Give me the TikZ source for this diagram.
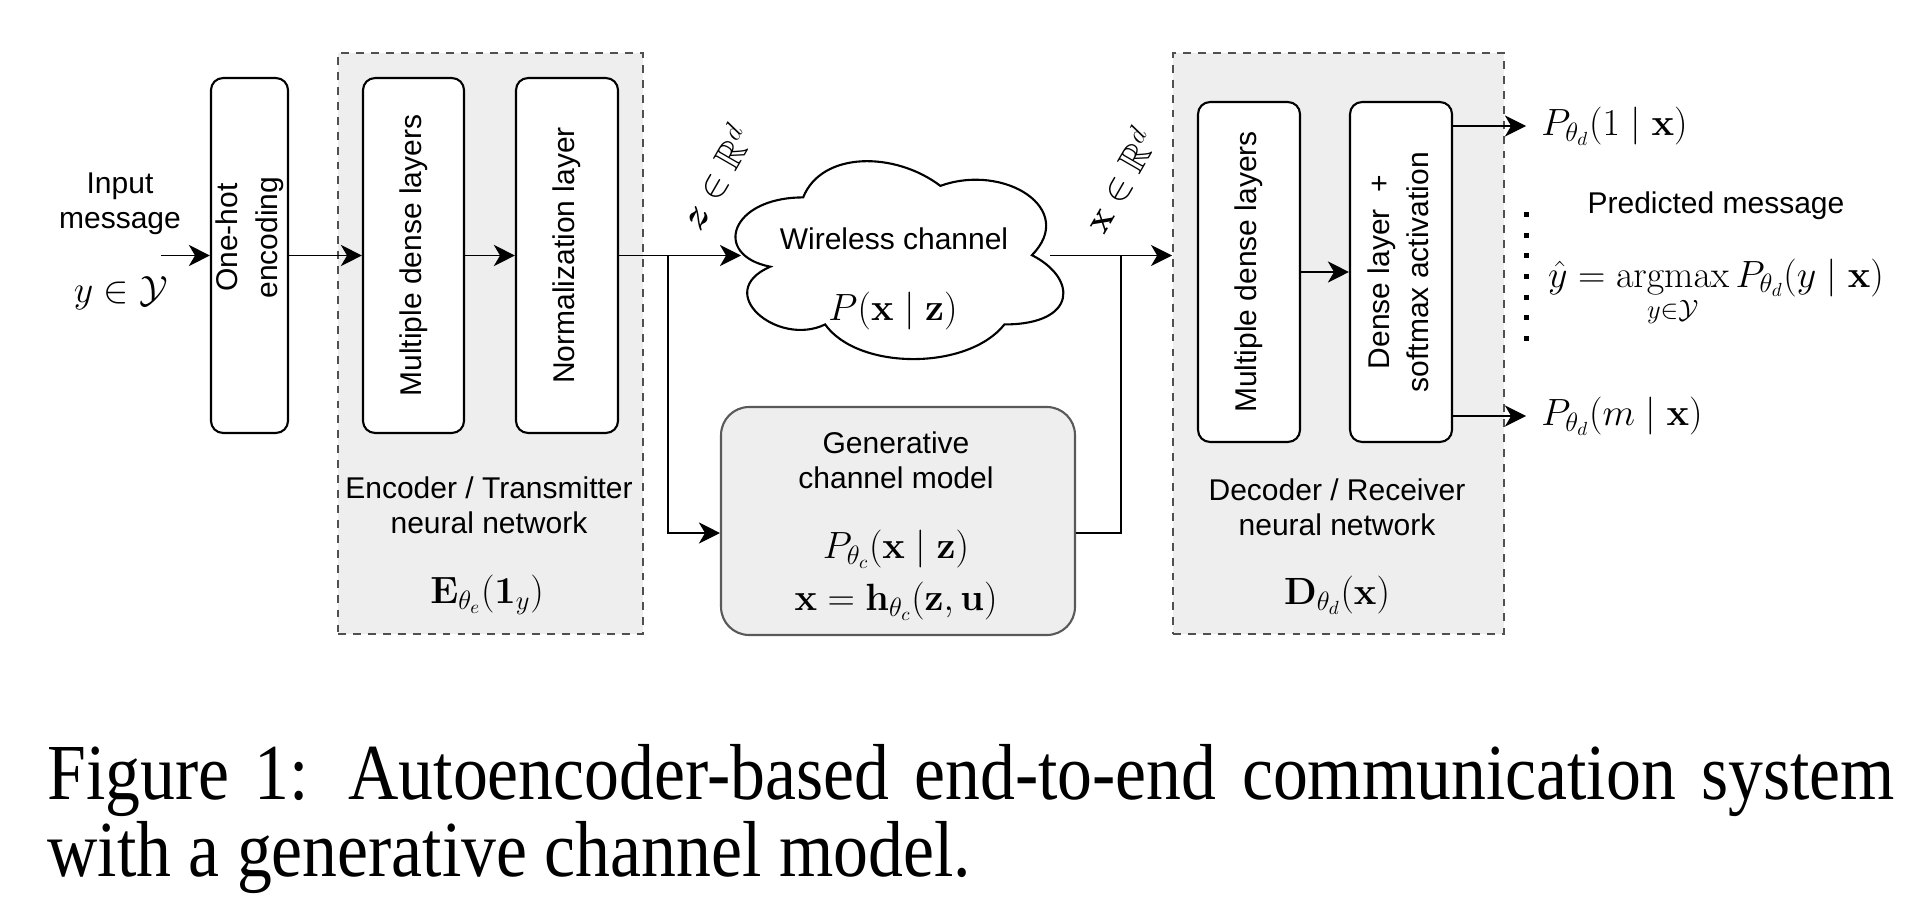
\RequirePackage{fix-cm}
\documentclass[tikz,border=0pt]{standalone}
\usepackage{xcolor}
\usepackage{graphicx}
\usepackage{tikz}
\usetikzlibrary{positioning,calc,arrows.meta}
\usepackage{amsmath}
\usepackage{amsfonts}
\usepackage{amssymb}
\usepackage[no-math]{fontspec}
\setmainfont{Liberation Sans}
\newfontfamily\capfont[FakeStretch=0.878]{Liberation Serif}
\definecolor{groupgray}{HTML}{EEEEEE}
\definecolor{dashgray}{HTML}{505050}
\newcommand{\lblsize}{\fontsize{17.07pt}{20pt}\selectfont}
\newcommand{\eqsize}{\fontsize{21.6pt}{26pt}\selectfont}
\newcommand{\capsize}{\capfont\fontsize{45.2pt}{53pt}\selectfont}
\newcommand{\vtext}[2][0pt]{\makebox[0pt]{\rotatebox{90}{\kern#1\renewcommand{\arraystretch}{1.12}\begin{tabular}{@{}c@{}}#2\end{tabular}}}}

\begin{document}
\begin{tikzpicture}[x=0.02cm, y=-0.02cm]
\tikzstyle{layer}=[rectangle, rounded corners=0.24cm, draw=black, line width=1.2pt, fill=white, minimum width=2.04cm, minimum height=7.1cm, inner sep=0pt, font=\lblsize]
\tikzstyle{group}=[rectangle, draw=dashgray, dash pattern=on 4.5pt off 4pt, line width=1.1pt, fill=groupgray, minimum height=11.62cm, inner sep=0pt]
\tikzstyle{connect}=[-{Stealth[length=12pt, width=12pt, inset=3.5pt]}, line width=1.1pt]
\tikzstyle{wire}=[line width=1.1pt]
\tikzstyle{txt}=[font=\lblsize, align=center, inner sep=0pt]
\tikzstyle{eq}=[font=\eqsize, inner sep=0pt]
\tikzstyle{captext}=[font=\capsize, anchor=base west, inner sep=0pt]
  \useasboundingbox (0,0) rectangle (1920,899);
  % transmitter and receiver groups
  \node[group, minimum width=6.1cm] (enc) at (490.5,343.5) {};
  \node[group, minimum width=6.62cm] (dec) at (1338.5,343.5) {};
  \node[layer, minimum width=1.54cm] (onehot) at (249.5,255.5) {\vtext[0.72cm]{One-hot\\encoding}};
  \node[layer, minimum width=2.02cm] (encdense) at (413.5,255.5) {\vtext{Multiple dense layers}};
  \node[layer] (norm) at (567,255.5) {\vtext{Normalization layer}};
  \node[layer, minimum height=6.8cm] (decdense) at (1249,272) {\vtext{Multiple dense layers}};
  \node[layer, minimum height=6.8cm] (softmax) at (1401,272) {\vtext{Dense layer~ +\\softmax activation}};
  \node[txt] (enclbl) at (489,505) {Encoder / Transmitter\\neural network};
  \node[eq] (encfun) at (487,595) {$\mathbf{E}_{\theta_e}(\mathbf{1}_y)$};
  \node[txt] (declbl) at (1337,507) {Decoder / Receiver\\neural network};
  \node[eq] (decfun) at (1337,595) {$\mathbf{D}_{\theta_d}(\mathbf{x})$};
  % channel
  \node[minimum width=7.32cm, minimum height=4.62cm, inner sep=0pt] (chan) at (895,255.5) {};
  \begin{scope}[shift={(chan.north west)}, x=7.32cm, y=-4.62cm]
    \draw[line width=1.2pt, fill=white] (0.25,0.25) .. controls (0.05,0.25) and (0,0.5) .. (0.16,0.55)
      .. controls (0,0.66) and (0.18,0.9) .. (0.31,0.8)
      .. controls (0.4,1) and (0.7,1) .. (0.8,0.8)
      .. controls (1,0.8) and (1,0.6) .. (0.875,0.5)
      .. controls (1,0.3) and (0.8,0.1) .. (0.625,0.2)
      .. controls (0.5,0.05) and (0.3,0.05) .. (0.25,0.25) -- cycle;
  \end{scope}
  \node[txt] (chantxt) at (894,239) {Wireless channel};
  \node[eq] (chanP) at (893,311) {$P(\mathbf{x}\mid\mathbf{z})$};
  \node[rectangle, rounded corners=0.56cm, draw=black!65, line width=1.2pt, fill=groupgray, minimum width=7.08cm, minimum height=4.56cm] (gen) at (898,521) {};
  \node[txt] (gentxt) at (896,460.5) {Generative\\channel model};
  \node[eq] (genP) at (896,549) {$P_{\theta_c}(\mathbf{x}\mid\mathbf{z})$};
  \node[eq] (genh) at (896,601) {$\mathbf{x}=\mathbf{h}_{\theta_c}(\mathbf{z},\mathbf{u})$};
  \node[eq, rotate=60] (zlbl) at (715,177) {$\boldsymbol{z}\in\mathbb{R}^d$};
  \node[eq, rotate=60] (xlbl) at (1119,180) {$\mathbf{x}\in\mathbb{R}^d$};
  % input and output
  \node[txt] (inlbl) at (120,204) {Input\\message};
  \node[eq] (inset) at (121,293) {$y\in\mathcal{Y}$};
  \coordinate (inp) at (161,255.5);
  \coordinate (split) at (668,255.5);
  \coordinate (chanin) at (741,255.5);
  \coordinate (chanout) at (1050,255.5);
  \coordinate (join) at (1121,255.5);
  \coordinate (out1) at (1526,126);
  \coordinate (outm) at (1526,416);
  \node[eq, right=0.3cm of out1] (p1) {$P_{\theta_d}(1\mid\mathbf{x})$};
  \node[eq, right=0.3cm of outm] (pm) {$P_{\theta_d}(m\mid\mathbf{x})$};
  \node[txt] (predlbl) at (1716,206) {Predicted message};
  \node[eq, anchor=base] (yhat) at (1716,287) {$\displaystyle\hat{y}=\operatorname*{argmax}_{y\in\mathcal{Y}}P_{\theta_d}(y\mid\mathbf{x})$};
  \draw[line width=0.1cm, dash pattern=on 0.1cm off 0.314cm] (1526,212) -- (1526,345);
  \path (inp) edge [connect] (onehot)
        (onehot) edge [connect] (encdense)
        (encdense) edge [connect] (norm)
        (norm) edge [connect] (chanin)
        (decdense) edge [connect] (softmax);
  \draw[connect] (split) |- ($(gen.west)+(0,12)$);
  \draw[wire] ($(gen.east)+(0,12)$) -| (join);
  \draw[connect] (chanout) -- (dec.west |- chanout);
  \draw[connect] (softmax.east |- out1) -- (out1);
  \draw[connect] (softmax.east |- outm) -- (outm);
  % caption
  \node[captext] (cap1) at (47,799) {\makebox[36.96cm][s]{Figure 1: Autoencoder-based end-to-end communication system}};
  \node[captext] (cap2) at (47,876) {with a generative channel model.};
\end{tikzpicture}
\end{document}
